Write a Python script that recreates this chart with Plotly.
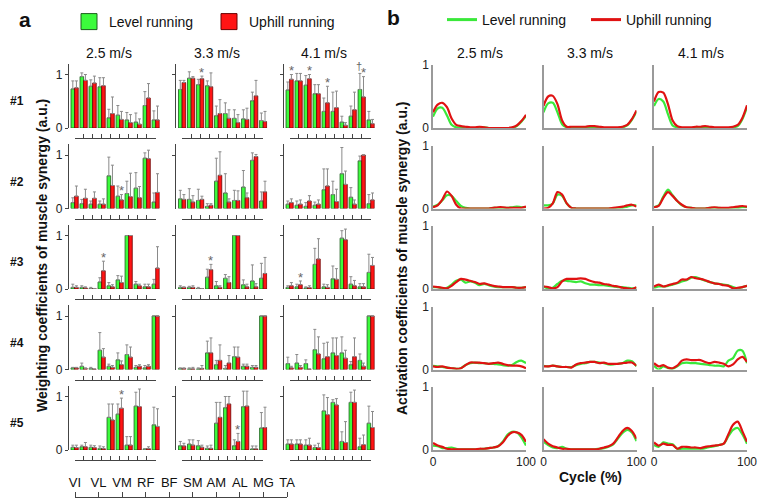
import numpy as np
import plotly.graph_objects as go

W, H = 760, 504
FONT = "Arial, Liberation Sans, sans-serif"

muscles = ["VI", "VL", "VM", "RF", "BF", "SM", "AM", "AL", "MG", "TA"]
speeds = ["2.5 m/s", "3.3 m/s", "4.1 m/s"]
synergy_labels = ["#1", "#2", "#3", "#4", "#5"]
cycle = [0, 5, 10, 15, 20, 25, 30, 35, 40, 45, 50, 55, 60, 65, 70, 75, 80, 85, 90, 95, 100]

# ---------- weighting coefficients (mean) and mean+SD, per speed ----------
w1_level = [[0.73, 0.96, 0.78, 0.77, 0.19, 0.24, 0.15, 0.11, 0.42, 0.15],
            [0.72, 0.93, 0.81, 0.79, 0.23, 0.27, 0.18, 0.17, 0.51, 0.14],
            [0.71, 0.88, 0.80, 0.64, 0.31, 0.31, 0.11, 0.22, 0.72, 0.15]]
w1_uphill = [[0.75, 0.89, 0.84, 0.79, 0.27, 0.16, 0.10, 0.07, 0.56, 0.15],
             [0.85, 0.93, 0.92, 0.77, 0.27, 0.18, 0.10, 0.16, 0.60, 0.12],
             [0.91, 0.88, 0.92, 0.64, 0.47, 0.38, 0.05, 0.34, 0.58, 0.08]]
w1_level_top = [[0.88, 1.03, 0.90, 0.94, 0.35, 0.42, 0.29, 0.28, 0.68, 0.32],
                [0.89, 1.05, 0.91, 0.88, 0.41, 0.47, 0.34, 0.34, 0.67, 0.28],
                [0.86, 1.02, 0.98, 0.81, 0.56, 0.67, 0.22, 0.41, 1.02, 0.31]]
w1_uphill_top = [[0.88, 1.00, 0.97, 0.94, 0.58, 0.31, 0.25, 0.17, 0.83, 0.41],
                 [0.89, 0.96, 0.97, 1.03, 0.53, 0.34, 0.25, 0.37, 0.89, 0.31],
                 [1.00, 1.02, 1.00, 0.81, 0.78, 0.69, 0.10, 0.67, 0.96, 0.16]]

w2_level = [[0.11, 0.09, 0.08, 0.08, 0.61, 0.23, 0.28, 0.38, 0.94, 0.12],
            [0.18, 0.17, 0.15, 0.04, 0.51, 0.29, 0.15, 0.40, 0.90, 0.14],
            [0.08, 0.06, 0.04, 0.06, 0.35, 0.26, 0.65, 0.21, 0.89, 0.09]]
w2_uphill = [[0.23, 0.19, 0.19, 0.08, 0.43, 0.16, 0.22, 0.20, 0.93, 0.30],
             [0.17, 0.12, 0.17, 0.06, 0.62, 0.12, 0.15, 0.20, 0.97, 0.31],
             [0.11, 0.08, 0.14, 0.08, 0.42, 0.13, 0.45, 0.08, 1.00, 0.16]]
w2_level_top = [[0.20, 0.17, 0.14, 0.14, 0.96, 0.42, 0.51, 0.67, 1.04, 0.29],
                [0.34, 0.37, 0.36, 0.09, 0.94, 0.65, 0.34, 0.71, 1.04, 0.31],
                [0.14, 0.14, 0.11, 0.12, 0.74, 0.51, 1.14, 0.39, 0.98, 0.26]]
w2_uphill_top = [[0.42, 0.36, 0.31, 0.18, 0.81, 0.26, 0.66, 0.41, 1.09, 0.65],
                 [0.26, 0.24, 0.23, 0.09, 1.06, 0.18, 0.33, 0.29, 1.01, 0.51],
                 [0.18, 0.16, 0.24, 0.16, 0.74, 0.36, 0.70, 0.16, 1.00, 0.29]]

w3_level = [[0.03, 0.03, 0.01, 0.13, 0.06, 0.17, 1.00, 0.09, 0.04, 0.09],
            [0.03, 0.03, 0.01, 0.22, 0.06, 0.20, 1.00, 0.08, 0.15, 0.20],
            [0.03, 0.04, 0.02, 0.46, 0.04, 0.19, 0.95, 0.09, 0.04, 0.31]]
w3_uphill = [[0.03, 0.02, 0.005, 0.34, 0.04, 0.12, 1.00, 0.06, 0.04, 0.39],
             [0.03, 0.03, 0.005, 0.36, 0.03, 0.12, 1.00, 0.04, 0.04, 0.29],
             [0.06, 0.08, 0.025, 0.56, 0.03, 0.18, 0.92, 0.06, 0.04, 0.44]]
w3_level_top = [[0.09, 0.06, 0.03, 0.21, 0.12, 0.25, 1.00, 0.14, 0.09, 0.18],
                [0.06, 0.05, 0.03, 0.37, 0.14, 0.27, 1.00, 0.17, 0.45, 0.48],
                [0.06, 0.09, 0.04, 0.76, 0.09, 0.43, 1.09, 0.23, 0.10, 0.65]]
w3_uphill_top = [[0.06, 0.04, 0.01, 0.52, 0.08, 0.24, 1.00, 0.09, 0.09, 0.79],
                 [0.04, 0.06, 0.01, 0.46, 0.06, 0.23, 1.00, 0.09, 0.10, 0.59],
                 [0.12, 0.15, 0.06, 0.94, 0.08, 0.38, 1.12, 0.16, 0.10, 0.59]]

w4_level = [[0.03, 0.06, 0.02, 0.36, 0.06, 0.18, 0.28, 0.04, 0.03, 1.00],
            [0.02, 0.01, 0.01, 0.31, 0.09, 0.02, 0.24, 0.06, 0.04, 1.00],
            [0.11, 0.12, 0.11, 0.37, 0.20, 0.31, 0.31, 0.09, 0.17, 1.00]]
w4_uphill = [[0.03, 0.02, 0.005, 0.23, 0.04, 0.09, 0.23, 0.06, 0.06, 1.00],
             [0.02, 0.01, 0.02, 0.31, 0.17, 0.12, 0.23, 0.06, 0.04, 1.00],
             [0.03, 0.04, 0.005, 0.29, 0.24, 0.26, 0.21, 0.24, 0.06, 1.00]]
w4_level_top = [[0.04, 0.12, 0.04, 0.69, 0.10, 0.31, 0.46, 0.075, 0.075, 1.00],
                [0.03, 0.03, 0.03, 0.53, 0.17, 0.075, 0.42, 0.10, 0.075, 1.00],
                [0.23, 0.28, 0.18, 0.75, 0.49, 0.59, 0.61, 0.15, 0.29, 1.00]]
w4_uphill_top = [[0.04, 0.03, 0.01, 0.39, 0.075, 0.16, 0.42, 0.09, 0.09, 1.00],
                 [0.03, 0.04, 0.075, 0.59, 0.46, 0.26, 0.42, 0.10, 0.075, 1.00],
                 [0.06, 0.075, 0.01, 0.61, 0.51, 0.59, 0.36, 0.59, 0.12, 1.00]]

w5_level = [[0.05, 0.06, 0.05, 0.03, 0.61, 0.67, 0.09, 0.82, 0.02, 0.47],
            [0.08, 0.11, 0.08, 0.03, 0.50, 0.79, 0.08, 0.81, 0.02, 0.41],
            [0.11, 0.11, 0.09, 0.045, 0.73, 0.89, 0.16, 0.89, 0.06, 0.50]]
w5_uphill = [[0.045, 0.06, 0.045, 0.025, 0.56, 0.78, 0.09, 0.81, 0.025, 0.44],
             [0.075, 0.09, 0.05, 0.03, 0.61, 0.86, 0.16, 0.82, 0.02, 0.42],
             [0.11, 0.11, 0.09, 0.045, 0.66, 0.84, 0.14, 0.89, 0.10, 0.42]]
w5_level_top = [[0.09, 0.09, 0.09, 0.075, 0.86, 0.86, 0.25, 1.08, 0.02, 0.80],
                [0.16, 0.19, 0.175, 0.075, 0.89, 1.00, 0.19, 1.10, 0.075, 0.70],
                [0.19, 0.19, 0.19, 0.09, 1.03, 0.94, 0.34, 1.08, 0.22, 0.82]]
w5_uphill_top = [[0.09, 0.14, 0.08, 0.06, 0.86, 0.97, 0.25, 1.14, 0.06, 0.77],
                 [0.125, 0.19, 0.09, 0.09, 0.89, 1.00, 0.31, 1.10, 0.075, 0.80],
                 [0.19, 0.19, 0.22, 0.125, 0.98, 0.96, 0.53, 1.12, 0.28, 0.72]]

# significance marks: (synergy, speed, muscle, condition, symbol)
marks = [(0, 1, 2, "U", "*"), (0, 2, 0, "U", "*"), (0, 2, 2, "U", "*"), (0, 2, 4, "U", "*"),
         (0, 2, 8, "L", "†"), (0, 2, 8, "U", "*"), (1, 0, 5, "U", "*"), (2, 0, 3, "U", "*"),
         (2, 1, 3, "U", "*"), (2, 2, 1, "U", "*"), (4, 0, 5, "U", "*"), (4, 1, 6, "U", "*")]

# ---------- activation coefficients, per speed, sampled every 5 % of cycle ----------
c1_level = [[0.18, 0.31, 0.32, 0.20, 0.05, 0.01, 0, 0, 0, 0, 0.01, 0.01, 0, 0, 0, 0, 0, 0.00, 0.03, 0.10, 0.19],
            [0.25, 0.39, 0.40, 0.25, 0.06, 0.01, 0, 0, 0, 0, 0.01, 0.01, 0, 0, 0, 0, 0, 0.01, 0.04, 0.13, 0.26],
            [0.35, 0.46, 0.42, 0.22, 0.04, 0.01, 0, 0, 0, 0.01, 0.01, 0.01, 0, 0, 0, 0, 0, 0.01, 0.03, 0.14, 0.33]]
c1_uphill = [[0.25, 0.37, 0.40, 0.33, 0.15, 0.05, 0.03, 0.02, 0.01, 0.01, 0.02, 0.01, 0, 0, 0, 0, 0, 0.01, 0.04, 0.11, 0.21],
             [0.35, 0.50, 0.51, 0.38, 0.12, 0.02, 0.02, 0.02, 0.02, 0.02, 0.03, 0.03, 0.02, 0.01, 0.01, 0.01, 0.01, 0.02, 0.05, 0.14, 0.28],
             [0.42, 0.57, 0.56, 0.38, 0.12, 0.03, 0.01, 0.01, 0.01, 0.02, 0.02, 0.03, 0.02, 0.01, 0.01, 0.01, 0.01, 0.02, 0.05, 0.16, 0.36]]
c2_level = [[0.03, 0.06, 0.13, 0.21, 0.20, 0.12, 0.04, 0.01, 0, 0, 0, 0, 0, 0.01, 0.01, 0.01, 0.01, 0.02, 0.03, 0.02, 0.02],
            [0.05, 0.05, 0.08, 0.22, 0.20, 0.08, 0.01, 0, 0, 0, 0, 0, 0, 0, 0, 0, 0.01, 0.01, 0.03, 0.05, 0.05],
            [0.02, 0.05, 0.19, 0.30, 0.21, 0.12, 0.05, 0.02, 0.01, 0, 0, 0, 0.01, 0.01, 0.01, 0, 0, 0.01, 0.01, 0.02, 0.02]]
c2_uphill = [[0.02, 0.05, 0.14, 0.27, 0.20, 0.06, 0, 0, 0, 0, 0, 0, 0, 0.01, 0.02, 0.02, 0.01, 0.01, 0.01, 0.01, 0.03],
             [0.00, 0.01, 0.08, 0.26, 0.22, 0.08, 0.01, 0, 0, 0, 0, 0, 0, 0, 0, 0.01, 0.02, 0.03, 0.05, 0.06, 0.03],
             [0.02, 0.04, 0.17, 0.26, 0.20, 0.12, 0.06, 0.02, 0.01, 0, 0, 0, 0.01, 0.02, 0.01, 0.01, 0.01, 0.02, 0.03, 0.04, 0.03]]
c3_level = [[0.03, 0.03, 0.01, 0.02, 0.07, 0.13, 0.15, 0.10, 0.12, 0.10, 0.06, 0.08, 0.06, 0.04, 0.03, 0.03, 0.03, 0.03, 0.02, 0.02, 0.03],
            [0.04, 0.01, 0.02, 0.08, 0.13, 0.13, 0.12, 0.11, 0.12, 0.09, 0.07, 0.07, 0.06, 0.06, 0.05, 0.04, 0.03, 0.03, 0.02, 0.01, 0.02],
            [0.02, 0.04, 0.04, 0.05, 0.07, 0.09, 0.12, 0.14, 0.18, 0.19, 0.16, 0.13, 0.11, 0.09, 0.08, 0.07, 0.06, 0.03, 0.01, 0.03, 0.05]]
c3_uphill = [[0.04, 0.03, 0.02, 0.01, 0.05, 0.11, 0.16, 0.15, 0.13, 0.11, 0.08, 0.09, 0.07, 0.05, 0.04, 0.03, 0.03, 0.03, 0.02, 0.02, 0.03],
             [0.04, 0.03, 0.01, 0.03, 0.12, 0.16, 0.16, 0.16, 0.17, 0.16, 0.13, 0.11, 0.10, 0.08, 0.07, 0.05, 0.04, 0.02, 0.01, 0.00, 0.03],
             [0.04, 0.07, 0.04, 0.06, 0.08, 0.10, 0.15, 0.15, 0.19, 0.17, 0.16, 0.14, 0.11, 0.09, 0.08, 0.06, 0.05, 0.01, 0.02, 0.03, 0.05]]
c4_level = [[0.06, 0.05, 0.04, 0.03, 0.02, 0.01, 0.02, 0.07, 0.10, 0.11, 0.10, 0.10, 0.09, 0.09, 0.08, 0.07, 0.06, 0.07, 0.12, 0.14, 0.10],
            [0.06, 0.05, 0.06, 0.05, 0.04, 0.04, 0.04, 0.07, 0.09, 0.10, 0.12, 0.12, 0.11, 0.10, 0.08, 0.08, 0.09, 0.10, 0.14, 0.13, 0.05],
            [0.06, 0.00, 0.05, 0.02, 0.01, 0.05, 0.10, 0.11, 0.10, 0.10, 0.09, 0.08, 0.07, 0.06, 0.06, 0.05, 0.14, 0.18, 0.30, 0.30, 0.10]]
c4_uphill = [[0.05, 0.04, 0.05, 0.03, 0.02, 0.01, 0.02, 0.07, 0.11, 0.11, 0.11, 0.10, 0.09, 0.10, 0.11, 0.09, 0.07, 0.06, 0.06, 0.05, 0.02],
             [0.05, 0.05, 0.06, 0.05, 0.04, 0.04, 0.03, 0.08, 0.10, 0.11, 0.12, 0.12, 0.10, 0.11, 0.09, 0.09, 0.09, 0.10, 0.11, 0.11, 0.06],
             [0.10, 0.05, 0.07, 0.03, 0.02, 0.06, 0.14, 0.16, 0.15, 0.15, 0.15, 0.12, 0.10, 0.12, 0.11, 0.09, 0.05, 0.08, 0.16, 0.20, 0.12]]
c5_level = [[0.07, 0.06, 0.03, 0.03, 0.04, 0.02, 0.01, 0.01, 0.01, 0.01, 0.01, 0.02, 0.03, 0.04, 0.06, 0.13, 0.24, 0.29, 0.28, 0.20, 0.07],
            [0.13, 0.08, 0.04, 0.03, 0.05, 0.02, 0.01, 0.01, 0.01, 0.01, 0.01, 0.01, 0.02, 0.03, 0.05, 0.09, 0.18, 0.27, 0.32, 0.28, 0.14],
            [0.08, 0.05, 0.12, 0.10, 0.09, 0.02, 0.02, 0.02, 0.02, 0.02, 0.02, 0.03, 0.05, 0.06, 0.08, 0.10, 0.22, 0.32, 0.35, 0.25, 0.10]]
c5_uphill = [[0.11, 0.07, 0.05, 0.02, 0.01, 0.01, 0.01, 0.01, 0.01, 0.01, 0.02, 0.02, 0.03, 0.04, 0.06, 0.12, 0.22, 0.28, 0.28, 0.24, 0.13],
             [0.17, 0.10, 0.06, 0.04, 0.02, 0.02, 0.01, 0.01, 0.01, 0.01, 0.01, 0.01, 0.02, 0.04, 0.06, 0.10, 0.20, 0.30, 0.35, 0.30, 0.18],
             [0.12, 0.07, 0.10, 0.08, 0.08, 0.02, 0.05, 0.05, 0.04, 0.04, 0.03, 0.05, 0.06, 0.07, 0.08, 0.10, 0.25, 0.40, 0.45, 0.30, 0.13]]

W_LEVEL = [w1_level, w2_level, w3_level, w4_level, w5_level]
W_UPHILL = [w1_uphill, w2_uphill, w3_uphill, w4_uphill, w5_uphill]
W_LEVEL_TOP = [w1_level_top, w2_level_top, w3_level_top, w4_level_top, w5_level_top]
W_UPHILL_TOP = [w1_uphill_top, w2_uphill_top, w3_uphill_top, w4_uphill_top, w5_uphill_top]
C_LEVEL = [c1_level, c2_level, c3_level, c4_level, c5_level]
C_UPHILL = [c1_uphill, c2_uphill, c3_uphill, c4_uphill, c5_uphill]

# ---------- styling ----------
G_FILL, G_EDGE = "#3cfb3c", "#1c5e1c"
R_FILL, R_EDGE = "#ff1414", "#6a0000"
G_LINE, R_LINE = "#3ae83a", "#e01212"
AX_DARK = "#444444"
AX_GRAY = "#9a9a9a"
ERR = "#8a8a8a"


def fx(p):
    return p / W


def fy(p):
    return 1 - p / H


fig = go.Figure()
layout = {}
annotations = []
ax_n = [0]


def new_axis():
    ax_n[0] += 1
    n = ax_n[0]
    return ("xaxis" if n == 1 else f"xaxis{n}", "yaxis" if n == 1 else f"yaxis{n}",
            "x" if n == 1 else f"x{n}", "y" if n == 1 else f"y{n}")


cats = list(range(1, len(muscles) + 1))
X_LO, X_HI = 0.35, 10.45
UNIT_A = 53.5
PITCH = 91.0 / (X_HI - X_LO)

# ---------- panel a: bar charts ----------
for r in range(5):
    zero = 128 + 80.5 * r
    top = zero - 1.2 * UNIT_A
    for c in range(3):
        left = 68.75 + 107.5 * c
        right = left + 91.0
        xk, yk, xr, yr = new_axis()
        lvl = [float(v) for v in W_LEVEL[r][c]]
        uph = [float(v) for v in W_UPHILL[r][c]]
        lvl_e = [max(float(t) - v, 0.0) for t, v in zip(W_LEVEL_TOP[r][c], lvl)]
        uph_e = [max(float(t) - v, 0.0) for t, v in zip(W_UPHILL_TOP[r][c], uph)]
        zeros = [0.0] * len(cats)
        for vals, errs, fill, edge, name in [(lvl, lvl_e, G_FILL, G_EDGE, "Level running"),
                                             (uph, uph_e, R_FILL, R_EDGE, "Uphill running")]:
            fig.add_trace(go.Bar(
                x=cats, y=vals, xaxis=xr, yaxis=yr, name=name, showlegend=False,
                marker=dict(color=fill, line=dict(color=edge, width=0.8)),
                error_y=dict(type="data", array=errs, arrayminus=zeros,
                             symmetric=False, color=ERR, thickness=1, width=1.5),
                hoverinfo="skip"))
        layout[xk] = dict(domain=[fx(left), fx(right)], range=[X_LO, X_HI], visible=False,
                          anchor=yr, fixedrange=True)
        layout[yk] = dict(domain=[fy(zero), fy(top)], range=[0, 1.2], anchor=xr,
                          showline=True, linecolor=AX_DARK, linewidth=1, showgrid=False,
                          zeroline=False, ticks="outside", ticklen=3, tickcolor=AX_DARK,
                          tickvals=[0, 1] if c == 0 else [1],
                          showticklabels=(c == 0),
                          tickfont=dict(family=FONT, size=12, color="#222"))
        # bracket axis below the bars (ticks at each muscle)
        bxk, byk, bxr, byr = new_axis()
        fig.add_trace(go.Scatter(x=[1, 10], y=[None, None], xaxis=bxr, yaxis=yr,
                                 mode="lines", showlegend=False, hoverinfo="skip"))
        layout[bxk] = dict(domain=[fx(left + (1 - X_LO) * PITCH), fx(left + (10 - X_LO) * PITCH)],
                           range=[1, 10], anchor="free", position=fy(zero + 10),
                           showline=True, linecolor=AX_DARK, linewidth=1,
                           ticks="inside", ticklen=4, tickcolor=AX_DARK, tickvals=cats,
                           showticklabels=False, showgrid=False, zeroline=False)
        # significance marks
        for (s, sp, m, cond, sym) in marks:
            if s == r and sp == c:
                topv = (W_UPHILL_TOP if cond == "U" else W_LEVEL_TOP)[r][c][m]
                annotations.append(dict(
                    x=cats[m] + (0.2 if cond == "U" else -0.3),
                    y=topv + (0.14 if sym == "†" else 0.07),
                    xref=xr, yref=yr, text=sym, showarrow=False, yanchor="middle",
                    font=dict(family=FONT, size=13 if sym == "*" else 11, color="#666")))

# muscle-name bracket at the bottom
mxk, myk, mxr, myr = new_axis()
fig.add_trace(go.Scatter(x=[1, 10], y=[None, None], xaxis=mxr, yaxis="y",
                         mode="lines", showlegend=False, hoverinfo="skip"))
layout[mxk] = dict(domain=[fx(75), fx(287)], range=[1, 10], anchor="free", position=fy(497),
                   side="top", showline=True, linecolor=AX_DARK, linewidth=1,
                   ticks="outside", ticklen=5, tickcolor=AX_DARK, tickvals=cats,
                   ticktext=muscles, tickangle=0,
                   tickfont=dict(family=FONT, size=13, color="#111"),
                   showgrid=False, zeroline=False)

# ---------- panel b: activation curves ----------
for r in range(5):
    zero = 128 + 80.5 * r
    top = zero - 63
    for c in range(3):
        left = 433 + 110.5 * c
        right = left + 93
        xk, yk, xr, yr = new_axis()
        for vals, col, name in [(C_LEVEL[r][c], G_LINE, "Level running"),
                                (C_UPHILL[r][c], R_LINE, "Uphill running")]:
            fig.add_trace(go.Scatter(x=cycle, y=vals, xaxis=xr, yaxis=yr, mode="lines",
                                     line=dict(color=col, width=2.2, shape="spline", smoothing=0.8),
                                     name=name, showlegend=False, hoverinfo="skip"))
        layout[xk] = dict(domain=[fx(left), fx(right)], range=[0, 100], anchor=yr,
                          showline=True, linecolor=AX_GRAY, linewidth=1.5, showgrid=False,
                          zeroline=False, ticks="", tickvals=[0, 100], tickangle=0,
                          showticklabels=(r == 4),
                          tickfont=dict(family=FONT, size=12, color="#222"))
        layout[yk] = dict(domain=[fy(zero), fy(top)], range=[0, 1], anchor=xr,
                          showline=True, linecolor=AX_GRAY, linewidth=1.5, showgrid=False,
                          zeroline=False, ticks="", tickvals=[0, 1],
                          showticklabels=(c == 0),
                          tickfont=dict(family=FONT, size=12, color="#222"))

# ---------- legends (entry-only traces) ----------
for name, fill, edge in [("Level running", G_FILL, G_EDGE), ("Uphill running", R_FILL, R_EDGE)]:
    fig.add_trace(go.Scatter(x=[None], y=[None], mode="markers", name=name, legend="legend",
                             marker=dict(symbol="square", size=16, color=fill,
                                         line=dict(color=edge, width=1)),
                             hoverinfo="skip"))
for name, col in [("Level running", G_LINE), ("Uphill running", R_LINE)]:
    fig.add_trace(go.Scatter(x=[None], y=[None], mode="lines", name=name, legend="legend2",
                             line=dict(color=col, width=3), hoverinfo="skip"))


# ---------- text ----------
def txt(x, y, s, size=14, bold=False, angle=0, color="#111"):
    annotations.append(dict(x=fx(x), y=fy(y), xref="paper", yref="paper", showarrow=False,
                            text=f"<b>{s}</b>" if bold else s, textangle=angle,
                            xanchor="center", yanchor="middle",
                            font=dict(family=FONT, size=size, color=color)))


txt(25, 20, "a", size=21, bold=True)
txt(393, 18, "b", size=21, bold=True)
for c, s in enumerate(speeds):
    txt(109 + 107.5 * c, 53, s, size=14)
    txt(479.5 + 110.5 * c, 53, s, size=14)
for r, s in enumerate(synergy_labels):
    txt(17, 101 + 80.5 * r, s, size=12, bold=True)
txt(42, 256, "Weighting coefficients of muscle synergy (a.u.)", size=14, bold=True, angle=-90)
txt(402, 258, "Activation coefficients of muscle synergy (a.u.)", size=14, bold=True, angle=-90)
txt(590, 477, "Cycle (%)", size=14, bold=True)

layout.update(dict(
    width=W, height=H, margin=dict(l=0, r=0, t=0, b=0, autoexpand=False),
    paper_bgcolor="white", plot_bgcolor="rgba(0,0,0,0)",
    barmode="group", bargap=0.2, bargroupgap=0.0,
    font=dict(family=FONT, size=12, color="#111"),
    legend=dict(x=fx(69), y=fy(22), xanchor="left", yanchor="middle", orientation="h",
                entrywidth=95, entrywidthmode="pixels", bgcolor="rgba(0,0,0,0)",
                font=dict(family=FONT, size=14, color="#111"), traceorder="normal"),
    legend2=dict(x=fx(442), y=fy(20), xanchor="left", yanchor="middle", orientation="h",
                 entrywidth=99, entrywidthmode="pixels", bgcolor="rgba(0,0,0,0)",
                 font=dict(family=FONT, size=14, color="#111"), traceorder="normal"),
    annotations=annotations,
))
fig.update_layout(**layout)
fig.write_html("out.html", config={"displayModeBar": False},
               post_script="document.body.style.margin='0';document.body.style.overflow='hidden';")
